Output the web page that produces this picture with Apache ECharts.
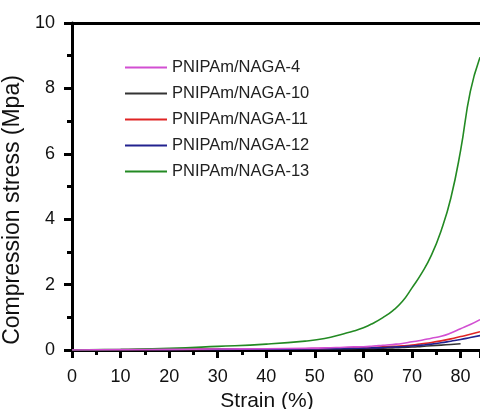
<!DOCTYPE html>
<html>
<head>
<meta charset="utf-8">
<script src="https://cdn.jsdelivr.net/npm/echarts@6/dist/echarts.min.js"></script>
<style>html,body{margin:0;padding:0;background:#fff}#c{width:480px;height:409px}</style>
</head>
<body>
<div id="c"></div>
<script>
var seriesNames = ['PNIPAm/NAGA-4', 'PNIPAm/NAGA-10', 'PNIPAm/NAGA-11', 'PNIPAm/NAGA-12', 'PNIPAm/NAGA-13'];
var strain = [0, 10, 20, 30, 40, 48, 52, 56, 58, 60, 62, 64, 66, 68, 70, 72, 74, 76, 78, 80, 82, 84];
var naga4  = [0, 0.01, 0.02, 0.03, 0.04, 0.055, 0.065, 0.085, 0.095, 0.1, 0.12, 0.145, 0.17, 0.2, 0.25, 0.3, 0.36, 0.42, 0.52, 0.65, 0.78, 0.93];
var naga10 = [0, 0.006, 0.012, 0.018, 0.024, 0.029, 0.033, 0.04, 0.043, 0.045, 0.05, 0.058, 0.066, 0.076, 0.09, 0.11, 0.13, 0.15, 0.17, 0.19, null, null];
var naga11 = [0, 0.008, 0.016, 0.024, 0.032, 0.04, 0.046, 0.058, 0.064, 0.07, 0.08, 0.095, 0.11, 0.125, 0.15, 0.19, 0.23, 0.28, 0.34, 0.41, 0.48, 0.56];
var naga12 = [0, 0.006, 0.012, 0.018, 0.025, 0.032, 0.037, 0.047, 0.052, 0.058, 0.064, 0.075, 0.09, 0.1, 0.12, 0.15, 0.18, 0.22, 0.27, 0.32, 0.38, 0.44];
var naga13 = [0, 0.02, 0.05, 0.11, 0.18, 0.27, 0.35, 0.5, 0.58, 0.68, 0.82, 0.99, 1.2, 1.48, 1.9, 2.35, 2.9, 3.65, 4.65, 6.1, 7.9, 8.95];
var colors = ['#d24fd2', '#333333', '#e02424', '#22228f', '#238a23'];

function pairs(ys) {
  var out = [];
  for (var i = 0; i < strain.length; i++) {
    if (ys[i] !== null) out.push([strain[i], ys[i]]);
  }
  return out;
}
var allData = [naga4, naga10, naga11, naga12, naga13];
var font = 'Liberation Sans, Arial, sans-serif';

var chart = echarts.init(document.getElementById('c'), null, {renderer: 'canvas'});
chart.setOption({
  animation: false,
  backgroundColor: '#fff',
  color: colors,
  grid: {left: 72, right: 0, top: 23, bottom: 59, containLabel: false, outerBoundsMode: 'none'},
  legend: {
    orient: 'vertical', left: 120, top: 54,
    itemWidth: 42, itemHeight: 2, itemGap: 9,
    icon: 'rect',
    textStyle: {fontFamily: font, fontSize: 16.5, color: '#222'},
    data: seriesNames
  },
  xAxis: [{
    type: 'value', min: 0, max: 84, interval: 10, position: 'bottom',
    name: 'Strain (%)', nameLocation: 'middle', nameGap: 40,
    nameTextStyle: {fontFamily: font, fontSize: 21, color: '#111', padding: [0, 18, 0, 0]},
    axisLine: {show: true, onZero: false, lineStyle: {color: '#000', width: 3}},
    axisTick: {show: true, length: 8, lineStyle: {color: '#000', width: 3}},
    minorTick: {show: true, splitNumber: 2, length: 5, lineStyle: {width: 3, color: '#000'}},
    axisLabel: {fontFamily: font, fontSize: 18, color: '#111', margin: 18, showMaxLabel: false},
    splitLine: {show: false}
  }, {
    type: 'value', min: 0, max: 84, position: 'top',
    axisLine: {show: true, onZero: false, lineStyle: {color: '#000', width: 3}},
    axisTick: {show: false}, axisLabel: {show: false}, splitLine: {show: false}
  }],
  yAxis: [{
    type: 'value', min: 0, max: 10, interval: 2,
    name: 'Compression stress (Mpa)', nameLocation: 'middle', nameGap: 38, nameRotate: 90,
    nameTextStyle: {fontFamily: font, fontSize: 23, color: '#111', padding: [0, 47, 0, 0]},
    axisLine: {show: true, onZero: false, lineStyle: {color: '#000', width: 3}},
    axisTick: {show: true, inside: false, length: 8, lineStyle: {width: 3, color: '#000'}},
    minorTick: {show: true, splitNumber: 2, length: 5, lineStyle: {width: 3, color: '#000'}},
    axisLabel: {fontFamily: font, fontSize: 18, color: '#111', margin: 17},
    splitLine: {show: false}
  }],
  series: seriesNames.map(function (n, i) {
    return {
      name: n, type: 'line', data: pairs(allData[i]), smooth: 0.5,
      showSymbol: false, symbol: 'none', clip: true,
      lineStyle: {width: 1.6, color: colors[i]},
      z: i === 0 ? 6 : (i === 4 ? 5 : 3)
    };
  })
});
</script>
</body>
</html>
